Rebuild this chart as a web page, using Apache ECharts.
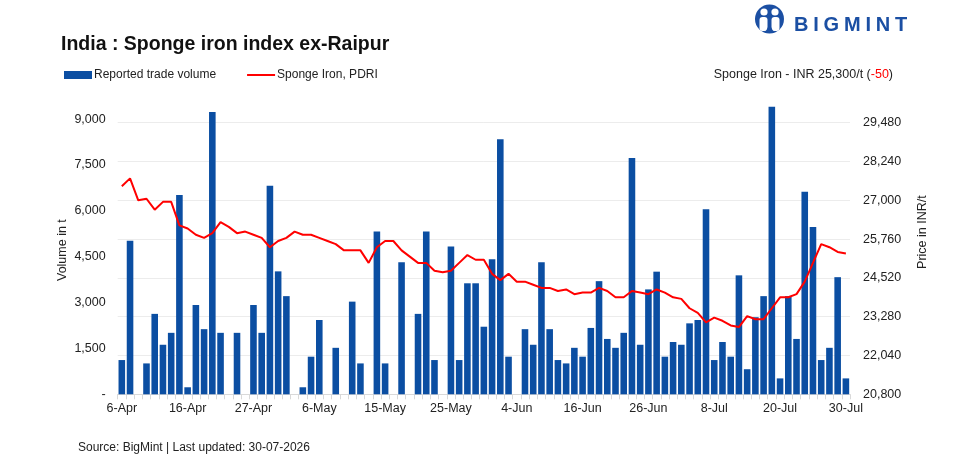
<!DOCTYPE html>
<html>
<head>
<meta charset="utf-8">
<script src="https://cdn.jsdelivr.net/npm/echarts@6/dist/echarts.min.js"></script>
<style>
  html, body { margin: 0; padding: 0; background: #fff; }
  #wrap { position: relative; width: 959px; height: 467px; }
  #chart { width: 959px; height: 467px; }
  #logo {
    position: absolute; left: 794px; top: 13px;
    font-family: "Liberation Sans", Arial, sans-serif; font-weight: bold;
    font-size: 20px; letter-spacing: 4.8px; color: #1b4fa3;
  }
</style>
</head>
<body>
<div id="wrap">
  <div id="chart"></div>
  <div id="logo">BIGMINT</div>
</div>
<script>
// 日期（仅交易日）
const categories = [
  "6-Apr","7-Apr","8-Apr","9-Apr","10-Apr","11-Apr","13-Apr","15-Apr","16-Apr",
  "17-Apr","18-Apr","20-Apr","21-Apr","22-Apr","23-Apr","24-Apr","27-Apr",
  "28-Apr","29-Apr","30-Apr","1-May","2-May","4-May","5-May","6-May",
  "7-May","8-May","9-May","11-May","12-May","13-May","14-May","15-May",
  "16-May","18-May","19-May","20-May","21-May","22-May","23-May","25-May",
  "26-May","27-May","29-May","30-May","1-Jun","2-Jun","3-Jun","4-Jun",
  "5-Jun","6-Jun","8-Jun","9-Jun","10-Jun","11-Jun","12-Jun","16-Jun",
  "17-Jun","18-Jun","19-Jun","20-Jun","22-Jun","23-Jun","24-Jun","26-Jun",
  "27-Jun","29-Jun","30-Jun","1-Jul","2-Jul","3-Jul","6-Jul","8-Jul",
  "9-Jul","10-Jul","11-Jul","13-Jul","14-Jul","15-Jul","17-Jul","20-Jul",
  "21-Jul","22-Jul","23-Jul","24-Jul","25-Jul","27-Jul","28-Jul","30-Jul"
];

// 成交量 (t)
const volume = [
  1120, 5020, null, 1010, 2630, 1620, 2010, 6520, 230,
  2920, 2130, 9230, 2010, null, 2010, null, 2920,
  2010, 6820, 4020, 3210, null, 230, 1230, 2430,
  null, 1520, null, 3030, 1010, null, 5320, 1010,
  null, 4320, null, 2630, 5320, 1120, null, 4830,
  1120, 3630, 3630, 2210, 4420, 8340, 1230, null,
  2130, 1620, 4320, 2130, 1120, 1010, 1520, 1230,
  2170, 3700, 1810, 1520, 2010, 7730, 1620, 3430,
  4010, 1230, 1710, 1620, 2320, 2430, 6050, 1120,
  1710, 1230, 3890, 820, 2520, 3210, 9400, 520,
  3210, 1810, 6620, 5470, 1120, 1520, 3830, 520
];

// 价格 (INR/t)
const price = [
  27450, 27700, 27000, 27050, 26700, 26950, 26950, 26200, 26100,
  25900, 25800, 25950, 26300, 26150, 25950, 26000, 25900,
  25800, 25500, 25700, 25800, 26000, 25900, 25900, 25800,
  25700, 25600, 25400, 25400, 25400, 25000, 25500, 25700,
  25700, 25400, 25200, 25000, 25000, 24750, 24700, 24750,
  25000, 25250, 25100, 25100, 24650, 24450, 24650, 24400,
  24400, 24300, 24200, 24200, 24100, 24150, 24000, 24050,
  24050, 24200, 24100, 23900, 23900, 24100, 24050, 24000,
  24150, 24050, 23900, 23850, 23550, 23400, 23100, 23250,
  23150, 23000, 22950, 23300, 23200, 23200, 23550, 23900,
  23900, 24000, 24400, 25000, 25600, 25500, 25350, 25300
];

const font = '"Liberation Sans", Arial, sans-serif';
const myChart = echarts.init(document.getElementById("chart"));

let option = {
  backgroundColor: "#fff",
  textStyle: { fontFamily: font },
  animation: false,
  title: [
    {
      text: "India : Sponge iron index ex-Raipur",
      left: 56, top: 30,
      textStyle: { fontFamily: font, fontSize: 19.5, fontWeight: "bold", color: "#111" }
    },
    {
      text: "{a|Sponge Iron - INR 25,300/t (}{b|-50}{a|)}",
      right: 61, top: 63,
      textStyle: {
        fontWeight: "normal",
        rich: {
          a: { fontFamily: font, fontSize: 12.5, fontWeight: "normal", color: "#222" },
          b: { fontFamily: font, fontSize: 12.5, fontWeight: "normal", color: "#ff0000" }
        }
      }
    },
    {
      text: "Source: BigMint | Last updated: 30-07-2026",
      left: 73, top: 437,
      textStyle: { fontFamily: font, fontSize: 12, fontWeight: "normal", color: "#222" }
    }
  ],
  legend: {
    left: 59, top: 64,
    itemWidth: 28, itemHeight: 8, itemGap: 31,
    textStyle: { fontFamily: font, fontSize: 12, color: "#222", padding: [0, 0, 0, -3] },
    data: [
      { name: "Reported trade volume", icon: "rect" },
      { name: "Sponge Iron, PDRI", icon: "path://M0,0 H28 V2 H0 Z" }
    ]
  },
  grid: { left: 117.7, right: 109, top: 83.9, bottom: 72.7, containLabel: false },
  xAxis: {
    type: "category",
    data: categories,
    boundaryGap: true,
    axisLine: { show: true, lineStyle: { color: "#d9d9d9", width: 1 } },
    axisTick: { show: true, interval: 0, length: 5, lineStyle: { color: "#d9d9d9" } },
    axisLabel: { interval: 7, color: "#222", fontSize: 12.5, margin: 8, fontFamily: font }
  },
  yAxis: [
    {
      type: "value",
      min: 0, max: 10150, interval: 1500,
      name: "Volume in t",
      nameLocation: "middle", nameRotate: 90, nameGap: 49, nameMoveOverlap: false,
      nameTextStyle: { color: "#222", fontSize: 12.5, fontFamily: font, padding: [0, 22, 0, 0] },
      axisLine: { show: false }, axisTick: { show: false },
      splitLine: { show: false },
      axisLabel: {
        showMaxLabel: false, color: "#222", fontSize: 12.5, margin: 12, fontFamily: font,
        formatter: (v) => v === 0 ? "-" : v.toLocaleString("en-US")
      }
    },
    {
      type: "value",
      min: 20800, max: 30720, interval: 1240,
      name: "Price in INR/t",
      nameLocation: "middle", nameRotate: 90, nameGap: 66, nameMoveOverlap: false,
      nameTextStyle: { color: "#222", fontSize: 12.5, fontFamily: font, padding: [0, 0, 0, 14] },
      axisLine: { show: false }, axisTick: { show: false },
      splitLine: {
        show: true,
        lineStyle: { color: ["#ececec", "#ececec", "#ececec", "#ececec", "#ececec", "#ececec", "#ececec", "#ececec", "rgba(0,0,0,0)"] }
      },
      axisLabel: {
        showMaxLabel: false, color: "#222", fontSize: 12.5, margin: 13, fontFamily: font,
        formatter: (v) => v.toLocaleString("en-US")
      }
    }
  ],
  graphic: [
    { type: "circle", shape: { cx: 769.5, cy: 19, r: 14.5 }, style: { fill: "#1b4fa3" } },
    { type: "circle", shape: { cx: 764, cy: 12, r: 3.6 }, style: { fill: "#fff" } },
    { type: "circle", shape: { cx: 775, cy: 12, r: 3.6 }, style: { fill: "#fff" } },
    { type: "rect", shape: { x: 759.5, y: 17, width: 8, height: 14, r: 3 }, style: { fill: "#fff" } },
    { type: "rect", shape: { x: 771.5, y: 17, width: 8, height: 14, r: 3 }, style: { fill: "#fff" } },
    { type: "polygon", shape: { points: [[765, 33], [769.5, 24], [774, 33]] }, style: { fill: "#1b4fa3" } }
  ],
  series: [
    {
      name: "Reported trade volume",
      type: "bar",
      yAxisIndex: 0,
      data: volume,
      barCategoryGap: "20%",
      itemStyle: { color: "#0b4ea2" }
    },
    {
      name: "Sponge Iron, PDRI",
      type: "line",
      yAxisIndex: 1,
      data: price,
      symbol: "none",
      smooth: false,
      connectNulls: true,
      lineStyle: { color: "#ff0000", width: 2 },
      itemStyle: { color: "#ff0000" }
    }
  ]
};
myChart.setOption(option);
</script>
</body>
</html>
